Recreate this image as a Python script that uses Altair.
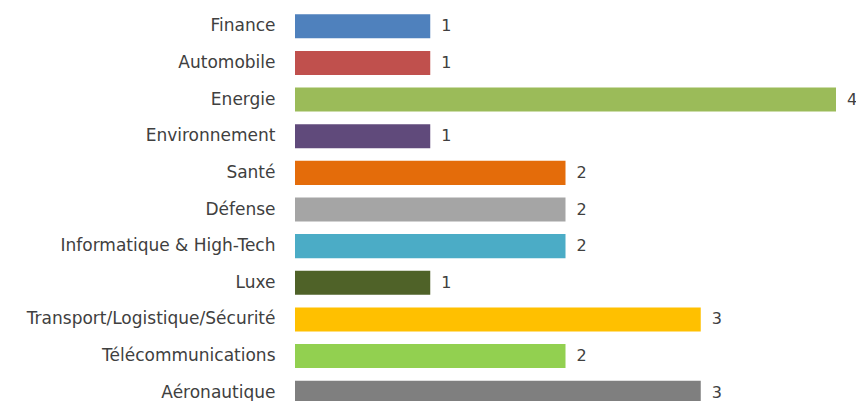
import altair as alt
import pandas as pd

categories = ["Finance", "Automobile", "Energie", "Environnement", "Santé", "Défense",
              "Informatique & High-Tech", "Luxe", "Transport/Logistique/Sécurité",
              "Télécommunications", "Aéronautique"]
values = [1, 1, 4, 1, 2, 2, 2, 1, 3, 2, 3]
colors = ["#4F81BD", "#C0504D", "#9BBB59", "#604A7B", "#E46C0A", "#A5A5A5",
          "#4BACC6", "#4F6228", "#FFC000", "#92D050", "#7F7F7F"]

df = pd.DataFrame({"cat": categories, "val": values})

FONT = "DejaVu Sans"

y = alt.Y("cat:N", sort=categories, title=None,
          scale=alt.Scale(range=[0, 403], paddingInner=0.344, paddingOuter=0.172),
          axis=alt.Axis(domain=False, ticks=False, labelPadding=20, labelFontSize=17,
                        labelFont=FONT, labelColor="#404040", labelLimit=400))
x = alt.X("val:Q", title=None, scale=alt.Scale(domain=[0, 4], nice=False), axis=None)

bars = alt.Chart(df).mark_bar().encode(
    x=x, y=y,
    color=alt.Color("cat:N", scale=alt.Scale(domain=categories, range=colors), legend=None),
)
labels = alt.Chart(df).mark_text(align="left", baseline="middle", dx=11, fontSize=16,
                                 font=FONT, color="#404040").encode(
    x=x, y=y, text="val:Q")

chart = (bars + labels).properties(
    width=541, height=393,
    autosize=alt.AutoSizeParams(type="none"),
    padding={"left": 287, "top": 0, "right": 20, "bottom": 0},
).configure_view(stroke=None)

chart.save("out.html", embed_options={"renderer": "svg", "actions": False})
